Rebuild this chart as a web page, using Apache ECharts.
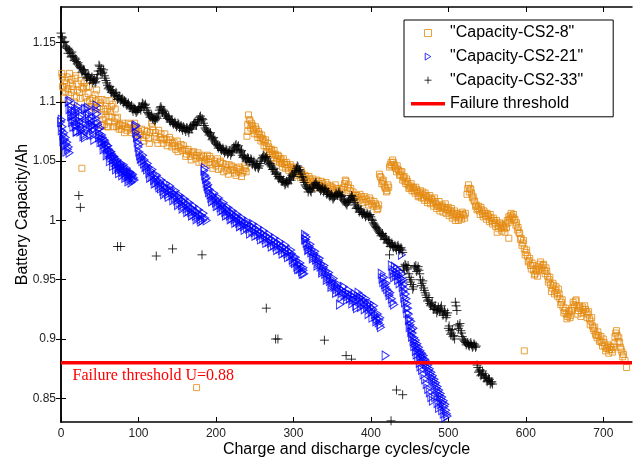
<!DOCTYPE html>
<html><head><meta charset="utf-8">
<script src="https://cdn.jsdelivr.net/npm/echarts@6/dist/echarts.min.js"></script>
<style>html,body{margin:0;padding:0;background:#fff}#c{width:636px;height:460px}</style>
</head><body><div id="c"></div>
<script>
const xTicks = [0, 100, 200, 300, 400, 500, 600, 700];
const yTicks = [0.85, 0.9, 0.95, 1, 1.05, 1.1, 1.15];
const xRange = [0, 737];
const yRange = [0.83, 1.18];
const threshold = 0.88;
const thresholdText = 'Failure threshold U=0.88';
const seriesNames = ['"Capacity-CS2-8"', '"Capacity-CS2-21"', '"Capacity-CS2-33"', 'Failure threshold'];

const cs2_8a = [
[1,1.124],[2,1.113],[3,1.112],[4,1.103],[5,1.118],[6,1.109],[8,1.121],[9,1.111],[10,1.106],[11,1.124],[12,1.116],[13,1.108],[15,1.113],[16,1.110],[17,1.100],[18,1.120],[19,1.122],[20,1.104],[22,1.115],[24,1.108],[26,1.118],[27,1.112],[29,1.111],[31,1.104],[33,1.113],[34,1.100],[35,1.107],[37,1.101],[39,1.096],[41,1.103],[43,1.095],[45,1.100],[46,1.110],[48,1.102],[50,1.096],[52,1.089],[53,1.102],[53,1.080],[55,1.094],[56,1.081],[57,1.087],[58,1.101],[59,1.079],[60,1.094],[61,1.079],[62,1.088],[63,1.101],[65,1.096],[66,1.087],[68,1.079],[70,1.094],[71,1.086],[72,1.079],[74,1.080],[76,1.081],[78,1.077],[80,1.082],[83,1.079],[85,1.076],[87,1.082],[89,1.078],[91,1.074],[93,1.077],[95,1.082],[96,1.073],[98,1.078],[100,1.075],[103,1.073],[106,1.070],[108,1.076],[110,1.072],[113,1.069],[115,1.074],[117,1.082],[119,1.076],[121,1.071],[123,1.068],[126,1.076],[128,1.070],[130,1.068],[132,1.065],[134,1.073],[136,1.068],[139,1.066],[141,1.068],[143,1.062],[146,1.066],[148,1.060],[150,1.067],[152,1.062],[155,1.064],[157,1.059],[160,1.060],[162,1.056],[165,1.058],[167,1.054],[169,1.057],[172,1.055],[174,1.052],[177,1.057],[179,1.053],[182,1.050],[184,1.054],[186,1.051],[189,1.055],[191,1.049],[193,1.052],[195,1.047],[198,1.050],[200,1.046],[202,1.052],[205,1.049],[207,1.044],[209,1.048],[212,1.045],[214,1.042],[217,1.047],[219,1.043],[222,1.045],[224,1.040],[227,1.044],[229,1.041],[232,1.043],[234,1.040],[237,1.046],[239,1.041],[240,1.071],[241,1.081],[242,1.089],[244,1.084],[245,1.078],[247,1.080],[249,1.077],[251,1.079],[253,1.073],[255,1.075],[257,1.070],[259,1.072],[261,1.068],[263,1.066],[265,1.062],[267,1.065],[269,1.060],[271,1.058],[273,1.056],[275,1.059],[277,1.055],[279,1.052],[281,1.054],[283,1.051],[285,1.048],[287,1.052],[289,1.047],[291,1.049],[293,1.045],[296,1.047],[298,1.043],[300,1.045],[302,1.041],[305,1.043],[307,1.039],[310,1.042],[312,1.037],[315,1.038],[317,1.034],[320,1.037],[322,1.033],[325,1.035],[327,1.031],[330,1.034],[333,1.031],[336,1.033],[339,1.029],[342,1.032],[345,1.027],[348,1.029],[351,1.026],[354,1.030],[357,1.025],[360,1.027],[363,1.024],[366,1.031],[368,1.033],[371,1.030],[374,1.027],[377,1.024],[380,1.021],[383,1.019],[386,1.022],[389,1.018],[392,1.020],[395,1.016],[398,1.019],[401,1.014],[404,1.016],[407,1.012],[409,1.010],[411,1.039],[413,1.036],[415,1.033],[417,1.030],[419,1.027],[421,1.025],[423,1.028],[424,1.045],[426,1.049],[428,1.051],[430,1.047],[432,1.044],[434,1.046],[436,1.042],[438,1.039],[440,1.041],[442,1.036],[444,1.033],[446,1.035],[448,1.030],[450,1.028],[452,1.031],[454,1.027],[456,1.025],[458,1.028],[460,1.024],[462,1.021],[464,1.025],[466,1.022],[468,1.019],[470,1.023],[472,1.020],[474,1.017],[476,1.021],[478,1.018],[480,1.015],[482,1.019],[484,1.014],[486,1.012],[488,1.016],[490,1.011],[492,1.013],[494,1.010],[496,1.014],[498,1.009],[500,1.011],[502,1.007],[504,1.010],[506,1.005],[508,1.008],[510,1.003],[512,1.006],[514,1.002],[516,1.005],[518,1.007],[520,1.004],[522,1.006],[524,1.022],[526,1.030],[528,1.027],[530,1.023],[532,1.020],[534,1.016],[536,1.013],[538,1.010],[540,1.008],[542,1.011],[544,1.006],[546,1.008],[548,1.004],[550,1.006],[552,1.003],[554,1.005],[556,1.000],[558,1.002],[560,0.998],[562,1.000],[563,0.990],[564,0.996],[566,0.998],[568,0.994],[570,0.996],[572,0.993],[574,0.997],[576,1.000],[578,0.985],[578,1.003],[580,1.004],[582,1.002],[584,1.005],[586,1.001],[588,0.998],[590,0.994],[592,0.989],[594,0.985],[596,0.981],[598,0.976],[600,0.973],[602,0.970],[604,0.966],[606,0.962],[608,0.964],[610,0.958],[612,0.955],[614,0.957],[616,0.961],[618,0.963],[620,0.960],[622,0.962],[624,0.958],[626,0.960],[628,0.953],[630,0.950],[632,0.946],[634,0.943],[636,0.945],[638,0.941],[640,0.939],[642,0.942],[644,0.934],[646,0.931],[648,0.927],[650,0.924],[652,0.921],[654,0.919],[656,0.923],[658,0.920],[660,0.926],[662,0.929],[664,0.932],[666,0.928],[668,0.924],[670,0.926],[672,0.922],[674,0.925],[676,0.928],[678,0.923],[680,0.921],[682,0.917],[684,0.915],[686,0.911],[688,0.907],[690,0.904],[692,0.901],[694,0.903],[696,0.899],[698,0.897],[700,0.900],[702,0.894],[704,0.892],[706,0.895],[708,0.891],[710,0.893],[712,0.889],[714,0.896],[716,0.905],[718,0.903],[720,0.901],[722,0.893],[724,0.889],[726,0.887],[728,0.882],[730,0.876],
[27,1.044],[175,0.859],[598,0.890]
];
const cs2_8b = [
[2,1.121],[7,1.115],[14,1.119],[21,1.110],[25,1.103],[30,1.116],[36,1.113],[40,1.098],[44,1.106],[47,1.094],[51,1.099],[54,1.085],[58,1.092],[62,1.083],[64,1.092],[67,1.098],[69,1.083],[73,1.087],[75,1.077],[79,1.080],[82,1.074],[86,1.078],[90,1.081],[94,1.076],[97,1.079],[101,1.072],[104,1.077],[107,1.067],[111,1.075],[114,1.065],[118,1.079],[122,1.074],[125,1.065],[129,1.073],[133,1.069],[137,1.063],[140,1.070],[144,1.065],[147,1.063],[151,1.058],[154,1.061],[158,1.063],[161,1.054],[164,1.060],[168,1.051],[171,1.058],[175,1.055],[178,1.049],[181,1.055],[185,1.048],[188,1.052],[192,1.054],[196,1.044],[199,1.048],[203,1.043],[206,1.050],[210,1.041],[213,1.047],[216,1.039],[220,1.046],[223,1.042],[226,1.038],[230,1.045],[233,1.037],[236,1.042],[238,1.044],
[241,1.075],[243,1.085],[246,1.082],[248,1.076],[250,1.073],[252,1.077],[254,1.070],[256,1.073],[258,1.067],[260,1.069],[262,1.063],[264,1.068],[266,1.058],[268,1.062],[270,1.056],[272,1.060],[274,1.053],[276,1.056],[278,1.050],[280,1.055],[282,1.049],[284,1.052],[286,1.045],[288,1.049],[290,1.044],[292,1.047],[294,1.042],[297,1.045],[299,1.040],[301,1.044],[304,1.038],[306,1.041],[309,1.036],[311,1.040],[314,1.035],[316,1.037],[319,1.031],[321,1.035],[324,1.030],[326,1.033],[329,1.028],[332,1.033],[335,1.029],[338,1.031],[341,1.026],[344,1.030],[347,1.024],[350,1.028],[353,1.023],[356,1.027],[359,1.022],[362,1.026],[365,1.028],[367,1.034],[370,1.028],[373,1.025],[376,1.022],[379,1.019],[382,1.021],[385,1.017],[388,1.020],[391,1.015],[394,1.018],[397,1.013],[400,1.017],[403,1.012],[406,1.014],[408,1.009],[410,1.013],
[412,1.037],[414,1.031],[416,1.034],[418,1.028],[420,1.024],[422,1.030],[425,1.047],[427,1.046],[429,1.049],[431,1.045],[433,1.041],[435,1.043],[437,1.038],[439,1.041],[441,1.034],[443,1.037],[445,1.031],[447,1.033],[449,1.027],[451,1.029],[453,1.025],[455,1.028],[457,1.023],[459,1.026],[461,1.020],[463,1.023],[465,1.019],[467,1.024],[469,1.017],[471,1.021],[473,1.015],[475,1.019],[477,1.014],[479,1.018],[481,1.012],[483,1.016],[485,1.010],[487,1.013],[489,1.008],[491,1.012],[493,1.007],[495,1.011],[497,1.006],[499,1.009],[501,1.004],[503,1.008],[505,1.002],[507,1.006],[509,1.000],[511,1.004],[513,1.000],[515,1.003],[517,1.001],[519,1.005],[521,1.002],
[525,1.027],[527,1.024],[529,1.026],[531,1.019],[533,1.017],[535,1.012],[537,1.009],[539,1.012],[541,1.005],[543,1.009],[545,1.003],[547,1.006],[549,1.001],[551,1.004],[553,0.999],[555,1.002],[557,0.997],[559,1.000],[561,0.995],[565,0.993],[567,0.997],[569,0.991],[571,0.995],[573,0.990],[575,0.994],[577,0.998],[579,1.001],[581,1.006],[583,1.003],[585,1.000],[587,0.996],[589,0.992],[591,0.990],[593,0.984],
[595,0.979],[597,0.983],[599,0.971],[601,0.975],[603,0.965],[605,0.968],[607,0.959],[609,0.962],[611,0.954],[613,0.959],[615,0.953],[617,0.959],[619,0.965],[621,0.958],[623,0.963],[625,0.955],[627,0.957],[629,0.948],[631,0.952],[633,0.940],[635,0.947],[637,0.938],[639,0.944],[641,0.936],[643,0.938],[645,0.929],[647,0.933],[649,0.922],[651,0.926],[653,0.917],[655,0.921],[657,0.918],[659,0.924],[661,0.931],[663,0.927],[665,0.933],[667,0.921],[669,0.928],[671,0.919],[673,0.927],[675,0.922],[677,0.925],[679,0.918],[681,0.923],[683,0.912],[685,0.918],[687,0.909],[689,0.910],[691,0.903],[693,0.906],[695,0.898],[697,0.902],[699,0.894],[701,0.897],[703,0.890],[705,0.893],[707,0.888],[709,0.894],[711,0.891],[713,0.893],[715,0.902],[717,0.907],[719,0.898],[721,0.897],[723,0.891],[725,0.885]
];

const cs2_21a = [
[0,1.083],[1,1.076],[2,1.079],[3,1.072],[4,1.074],[5,1.068],[6,1.070],[7,1.064],[8,1.066],[9,1.060],[10,1.062],[11,1.057],[12,1.101],[13,1.096],[14,1.092],[15,1.088],[16,1.085],[17,1.089],[18,1.083],[19,1.079],[20,1.081],[21,1.075],[22,1.096],[23,1.092],[24,1.087],[25,1.083],[26,1.079],[27,1.076],[28,1.082],[29,1.078],[30,1.073],[31,1.070],[33,1.094],[34,1.089],[35,1.095],[36,1.086],[37,1.082],[38,1.079],[39,1.084],[40,1.080],[41,1.076],[42,1.072],[44,1.078],[45,1.086],[46,1.097],[47,1.090],[48,1.081],[49,1.077],[50,1.073],[51,1.078],[52,1.069],[53,1.066],[54,1.070],[55,1.064],[56,1.068],[57,1.062],[58,1.065],[59,1.060],[60,1.063],[61,1.057],[62,1.060],[63,1.055],[64,1.058],[65,1.053],[66,1.056],[67,1.051],[68,1.054],[69,1.049],[70,1.052],[71,1.047],[72,1.050],[73,1.045],[74,1.048],[75,1.043],[76,1.046],[77,1.048],[78,1.043],[79,1.046],[80,1.041],[81,1.044],[82,1.040],[83,1.042],[84,1.038],[85,1.041],[86,1.037],[87,1.039],[88,1.035],[89,1.037],[90,1.040],[91,1.036],[92,1.038],[93,1.034],[94,1.036],
[96,1.079],[97,1.074],[98,1.070],[99,1.066],[100,1.062],[101,1.058],[102,1.055],[104,1.053],[105,1.050],[107,1.048],[108,1.051],[110,1.046],[111,1.043],[113,1.045],[114,1.040],[116,1.042],[117,1.037],[119,1.039],[120,1.034],[122,1.036],[123,1.032],[125,1.034],[126,1.030],[128,1.032],[129,1.027],[131,1.030],[132,1.025],[134,1.028],[135,1.024],[137,1.027],[138,1.022],[140,1.025],[141,1.029],[143,1.024],[144,1.021],[146,1.023],[147,1.019],[149,1.021],[150,1.017],[152,1.020],[153,1.015],[155,1.018],[156,1.013],[158,1.016],[159,1.012],[161,1.015],[162,1.010],[164,1.013],[165,1.008],[167,1.011],[168,1.007],[170,1.010],[171,1.005],[173,1.008],[174,1.004],[176,1.007],[177,1.003],[179,1.005],[180,1.001],[182,1.004],[183,1.000],
[185,1.042],[186,1.038],[187,1.035],[188,1.032],[189,1.029],[190,1.027],[191,1.024],[193,1.022],[194,1.019],[196,1.021],[197,1.017],[199,1.019],[200,1.015],[202,1.017],[203,1.013],[205,1.015],[206,1.011],[208,1.013],[209,1.009],[211,1.011],[212,1.007],[214,1.009],[215,1.005],[217,1.008],[218,1.004],[220,1.006],[221,1.002],[223,1.005],[224,1.001],[226,1.003],[227,0.999],[229,1.002],[230,0.998],[232,1.000],[233,0.996],[235,0.999],[236,0.995],[238,0.997],[240,0.994],[242,0.997],[243,0.993],[245,0.995],[247,0.991],[249,0.994],[250,0.990],[252,0.992],[254,0.988],[256,0.991],[257,0.987],[259,0.989],[261,0.985],[263,0.988],[264,0.984],[266,0.986],[268,0.982],[270,0.985],[271,0.981],[273,0.983],[275,0.979],[277,0.982],[278,0.978],[280,0.980],[282,0.976],[284,0.979],[285,0.975],[287,0.977],[289,0.973],[291,0.976],[292,0.972],[294,0.974],[296,0.970],[298,0.972],[299,0.967],[301,0.969],[302,0.964],[304,0.966],[305,0.961],[307,0.963],[308,0.959],[310,0.961],[311,0.957],[313,0.958],[314,0.955],
[315,0.988],[316,0.984],[317,0.981],[318,0.979],[320,0.976],[321,0.978],[323,0.973],[324,0.975],[326,0.970],[327,0.972],[329,0.967],[330,0.969],[332,0.964],[333,0.966],[335,0.961],[336,0.963],[338,0.958],[339,0.960],[341,0.955],[342,0.957],[344,0.952],[345,0.954],[347,0.949],[348,0.951],[350,0.946],[351,0.948],[353,0.944],[354,0.946],[356,0.942],[357,0.944],[359,0.940],[360,0.929],[361,0.942],[363,0.939],[364,0.941],[366,0.937],[368,0.939],[370,0.936],[371,0.938],[373,0.934],[375,0.937],[377,0.933],[378,0.935],[380,0.932],[382,0.926],[383,0.936],[385,0.933],[386,0.935],[388,0.931],[390,0.933],[391,0.929],[393,0.931],[395,0.927],[396,0.929],[398,0.925],[400,0.927],[401,0.923],[403,0.925],[405,0.921],[406,0.919],[408,0.917],[410,0.914],[411,0.916],[412,0.912],
[414,0.955],[415,0.951],[416,0.948],[417,0.952],[418,0.946],[419,0.944],[420,0.947],[421,0.942],[423,0.940],[424,0.937],[425,0.939],[427,0.934],[428,0.931],[430,0.929],[419,0.886],
[427,0.962],[429,0.958],[431,0.961],[433,0.956],[434,0.959],[436,0.954],[438,0.957],[439,0.951],[440,0.971],[441,0.955],[442,0.950],[443,0.946],[444,0.942],[445,0.938],[446,0.934],[447,0.930],[448,0.926],[449,0.921],[450,0.917],[451,0.912],[452,0.915],[453,0.908],[454,0.905],[455,0.909],[456,0.901],[457,0.897],[458,0.899],[459,0.894],[460,0.896],[461,0.891],[462,0.893],[463,0.888],[464,0.890],[465,0.886],[466,0.888],[467,0.884],[468,0.886],[469,0.881],[470,0.883],[471,0.879],[472,0.881],[473,0.876],[474,0.878],[475,0.873],[476,0.875],[477,0.870],[478,0.872],[479,0.867],[480,0.869],[481,0.864],[482,0.866],[483,0.861],[484,0.863],[485,0.858],[486,0.860],[487,0.855],[488,0.857],[489,0.852],[490,0.854],[491,0.849],[492,0.851],[493,0.846],[494,0.848],[495,0.843],[496,0.845],[497,0.840],[498,0.837],[499,0.835]
];
const cs2_21b = [
[1,1.085],[3,1.067],[5,1.063],[7,1.058],[10,1.100],[11,1.094],[13,1.088],[14,1.083],[16,1.079],[18,1.092],[20,1.075],[21,1.094],[23,1.084],[25,1.075],[27,1.088],[29,1.071],[31,1.094],[32,1.082],[34,1.076],[36,1.090],[38,1.072],[40,1.087],[42,1.080],[43,1.068],[45,1.093],[47,1.083],[49,1.070],[51,1.066],[53,1.072],[55,1.060],[57,1.067],[59,1.055],[61,1.063],[63,1.050],[65,1.058],[67,1.046],[69,1.054],[71,1.043],[73,1.051],[75,1.040],[77,1.044],[79,1.038],[81,1.047],[83,1.036],[85,1.044],[87,1.033],[89,1.041],[91,1.032],[93,1.039],[95,1.034],
[97,1.080],[99,1.071],[101,1.064],[103,1.052],[106,1.055],[109,1.045],[112,1.048],[115,1.036],[118,1.043],[121,1.031],[124,1.038],[127,1.028],[130,1.034],[133,1.022],[136,1.031],[139,1.020],[142,1.026],[145,1.017],[148,1.025],[151,1.013],[154,1.021],[157,1.010],[160,1.018],[163,1.007],[166,1.015],[169,1.004],[172,1.012],[175,1.001],[178,1.009],[181,0.999],[184,1.006],[186,1.002],[188,1.000],
[186,1.044],[188,1.036],[190,1.030],[192,1.026],[195,1.016],[198,1.023],[201,1.012],[204,1.019],[207,1.008],[210,1.015],[213,1.004],[216,1.011],[219,1.001],[222,1.008],[225,0.998],[228,1.005],[231,0.995],[234,1.002],[237,0.992],[241,0.999],[244,0.989],[248,0.997],[251,0.987],[255,0.994],[258,0.984],[262,0.991],[265,0.981],[269,0.988],[272,0.978],[276,0.985],[279,0.975],[283,0.982],[286,0.972],[290,0.979],[293,0.969],[297,0.975],[300,0.965],[303,0.969],[306,0.959],[309,0.964],[312,0.955],[313,0.960],
[315,0.984],[317,0.986],[319,0.975],[322,0.980],[325,0.968],[328,0.974],[331,0.962],[334,0.968],[337,0.956],[340,0.962],[343,0.950],[346,0.956],[349,0.944],[352,0.951],[355,0.939],[358,0.946],[362,0.935],[365,0.944],[369,0.933],[372,0.941],[376,0.930],[379,0.938],[381,0.928],[384,0.939],[387,0.927],[389,0.936],[392,0.925],[394,0.934],[397,0.921],[399,0.930],[402,0.918],[404,0.928],[407,0.915],[409,0.921],[413,0.910],[412,0.918],
[428,0.955],[430,0.952],[432,0.954],[435,0.950],[437,0.947],[440,0.949],[441,0.944],[442,0.940],[443,0.935],[444,0.931],[446,0.926],[447,0.922],[449,0.916],[450,0.910],[452,0.906],[453,0.902],[455,0.898],[456,0.894],[458,0.890],[459,0.887],[461,0.884],[463,0.880],[464,0.877],[466,0.874],[468,0.870],[470,0.866],[472,0.862],[474,0.858],[476,0.855],[478,0.851],[480,0.848],[483,0.851],[486,0.846],[488,0.842],[490,0.845],[492,0.840],[494,0.837],[496,0.834]
];

const cs2_33a = [
[0,1.158],[2,1.154],[4,1.150],[6,1.147],[8,1.145],[10,1.144],[12,1.141],[14,1.142],[16,1.138],[18,1.137],[20,1.134],[22,1.133],[24,1.130],[26,1.128],[28,1.126],[30,1.127],[32,1.123],[34,1.121],[36,1.122],[38,1.119],[40,1.121],[42,1.118],[44,1.116],[46,1.120],[48,1.126],[50,1.130],[52,1.128],[54,1.125],[56,1.122],[58,1.118],[60,1.114],[62,1.112],[64,1.110],[66,1.109],[68,1.107],[70,1.106],[72,1.105],[74,1.103],[76,1.104],[78,1.102],[80,1.100],[82,1.101],[84,1.099],[86,1.098],[88,1.097],[90,1.096],[92,1.094],[94,1.095],[96,1.093],[98,1.092],[100,1.094],[102,1.095],[104,1.096],[106,1.098],[108,1.097],[110,1.095],[112,1.091],[114,1.089],[116,1.088],[118,1.086],[120,1.087],[122,1.085],[124,1.086],[126,1.090],[128,1.095],[130,1.094],[132,1.093],[134,1.090],[136,1.088],[138,1.087],[140,1.085],[142,1.084],[144,1.083],[146,1.082],[148,1.081],[150,1.080],[152,1.081],[154,1.079],[156,1.078],[158,1.079],[160,1.077],[162,1.078],[164,1.076],[166,1.077],[168,1.078],[170,1.080],[172,1.082],[174,1.081],[176,1.083],[178,1.085],[180,1.088],[182,1.086],[184,1.082],[186,1.078],[188,1.076],[190,1.074],[192,1.073],[194,1.071],[196,1.069],[198,1.067],[200,1.065],[202,1.063],[204,1.062],[206,1.061],[208,1.060],[210,1.059],[212,1.058],[214,1.059],[216,1.057],[218,1.058],[220,1.057],[222,1.059],[224,1.061],[226,1.064],[228,1.062],[230,1.060],[232,1.058],[234,1.055],[236,1.054],[238,1.052],[240,1.051],[242,1.052],[244,1.050],[246,1.051],[248,1.049],[250,1.046],[252,1.047],[254,1.045],[256,1.046],[258,1.050],[260,1.053],[262,1.054],[264,1.053],[266,1.052],[268,1.049],[270,1.048],[272,1.045],[274,1.043],[276,1.041],[278,1.039],[280,1.037],[282,1.036],[284,1.035],[286,1.033],[288,1.032],[290,1.031],[292,1.032],[294,1.034],[296,1.036],[298,1.038],[300,1.037],[302,1.041],[304,1.044],[306,1.045],[308,1.043],[310,1.039],[312,1.036],[314,1.032],[316,1.029],[318,1.027],[320,1.026],[322,1.025],[324,1.027],[326,1.029],[328,1.031],[330,1.030],[332,1.028],[334,1.027],[336,1.026],[338,1.027],[340,1.026],[342,1.025],[344,1.023],[346,1.022],[348,1.021],[350,1.020],[352,1.019],[354,1.021],[356,1.022],[358,1.023],[360,1.022],[362,1.020],[364,1.018],[366,1.016],[368,1.014],[370,1.015],[372,1.017],[374,1.019],[376,1.020],[378,1.018],[380,1.013],[382,1.011],[384,1.010],[386,1.008],[388,1.007],[390,1.006],[392,1.005],[394,1.004],[396,1.005],[398,1.004],[400,1.003],[402,1.000],[404,0.997],[406,0.995],[408,0.993],[410,0.991],[412,0.989],[414,0.988],[416,0.987],[418,0.985],[420,0.984],[422,0.982],[424,0.981],[426,0.980],[428,0.979],[430,0.978],[432,0.977],[434,0.978],[436,0.977],[438,0.976],[440,0.975],[442,0.961],[444,0.963],[446,0.960],[448,0.962],[450,0.952],[451,0.948],[453,0.946],[455,0.944],[456,0.961],[458,0.962],[460,0.959],[462,0.958],[464,0.950],[466,0.947],[468,0.943],[470,0.939],[472,0.935],[474,0.933],[476,0.930],[478,0.929],[480,0.927],[482,0.926],[484,0.925],[486,0.924],[488,0.925],[490,0.926],[492,0.923],[494,0.921],[496,0.922],[498,0.920],[500,0.909],[502,0.907],[504,0.905],[506,0.902],[508,0.900],[509,0.931],[511,0.924],[512,0.912],[514,0.911],[516,0.907],[518,0.902],[520,0.899],[522,0.897],[524,0.896],[526,0.895],[528,0.896],[530,0.895],[532,0.894],[534,0.895],[536,0.894],[538,0.876],[539,0.872],[541,0.874],[543,0.870],[545,0.871],[547,0.868],[549,0.867],[551,0.865],[553,0.866],[555,0.863],[557,0.862],
[23,1.021],[25,1.011],[73,0.978],[77,0.978],[123,0.970],[144,0.976],[182,0.971],[265,0.926],[277,0.900],[280,0.900],[340,0.899],[368,0.886],[375,0.883],[424,0.971],[433,0.857],[441,0.853],[426,0.831]
];
const cs2_33b = [
[1,1.155],[3,1.150],[5,1.151],[7,1.146],[9,1.141],[11,1.143],[13,1.138],[15,1.139],[17,1.135],[19,1.136],[21,1.132],[23,1.131],[25,1.129],[27,1.125],[29,1.127],[31,1.124],[33,1.120],[35,1.123],[37,1.118],[39,1.120],[41,1.116],[43,1.119],[45,1.117],[47,1.123],[49,1.131],[51,1.126],[53,1.124],[55,1.127],[57,1.120],[59,1.116],[61,1.111],[63,1.113],[65,1.108],[67,1.110],[69,1.105],[71,1.108],[73,1.102],[75,1.105],[77,1.101],[79,1.103],[81,1.099],[83,1.100],[85,1.097],[87,1.099],[89,1.095],[91,1.097],[93,1.092],[95,1.094],[97,1.091],[99,1.093],[101,1.096],[103,1.093],[105,1.099],[107,1.095],[109,1.098],[111,1.093],[113,1.090],[115,1.087],[117,1.089],[119,1.085],[121,1.084],[123,1.087],[125,1.088],[127,1.093],[129,1.096],[131,1.091],[133,1.092],[135,1.089],[137,1.086],[139,1.088],[141,1.083],[143,1.085],[145,1.081],[147,1.083],[149,1.079],[151,1.082],[153,1.078],[155,1.080],[157,1.076],[159,1.078],[161,1.075],[163,1.078],[165,1.074],[167,1.079],[169,1.077],[171,1.081],[173,1.083],[175,1.080],[177,1.085],[179,1.087],[181,1.084],[183,1.085],[185,1.080],[187,1.077],[189,1.075],[191,1.072],[193,1.074],[195,1.068],[197,1.070],[199,1.066],[201,1.064],[203,1.061],[205,1.063],[207,1.059],[209,1.061],[211,1.057],[213,1.060],[215,1.056],[217,1.059],[219,1.055],[221,1.058],[223,1.062],[225,1.063],[227,1.060],[229,1.063],[231,1.057],[233,1.059],[235,1.053],[237,1.055],[239,1.050],[241,1.053],[243,1.049],[245,1.052],[247,1.047],[249,1.050],[251,1.045],[253,1.048],[255,1.044],[257,1.048],[259,1.052],[261,1.055],[263,1.051],[265,1.054],[267,1.050],[269,1.047],[271,1.046],[273,1.043],[275,1.044],[277,1.039],[279,1.040],[281,1.035],[283,1.037],[285,1.033],[287,1.034],[289,1.030],[291,1.033],[293,1.031],[295,1.035],[297,1.034],[299,1.039],[301,1.040],[303,1.042],[305,1.046],[307,1.042],[309,1.041],[311,1.037],[313,1.034],[315,1.030],[317,1.028],[319,1.024],[321,1.027],[323,1.024],[325,1.028],[327,1.030],[329,1.032],[331,1.029],[333,1.029],[335,1.025],[337,1.028],[339,1.024],[341,1.027],[343,1.022],[345,1.024],[347,1.020],[349,1.022],[351,1.018],[353,1.020],[355,1.023],[357,1.021],[359,1.024],[361,1.020],[363,1.021],[365,1.017],[367,1.015],[369,1.013],[371,1.016],[373,1.018],[375,1.021],[377,1.017],[379,1.015],[381,1.010],[383,1.012],[385,1.007],[387,1.009],[389,1.005],[391,1.007],[393,1.003],[395,1.006],[397,1.003],[399,1.005],[401,1.001],[403,0.998],[405,0.996],[407,0.994],[409,0.992],[411,0.990],[413,0.987],[415,0.989],[417,0.984],[419,0.986],[421,0.981],[423,0.983],[425,0.978],[427,0.981],[429,0.977],[431,0.979],[433,0.975],[435,0.979],[437,0.975],[439,0.977],[441,0.973],
[443,0.958],[445,0.962],[447,0.959],[449,0.955],[452,0.950],[454,0.942],[457,0.960],[459,0.957],[461,0.961],[463,0.955],[465,0.945],[467,0.949],[469,0.941],[471,0.937],[473,0.932],[475,0.935],[477,0.928],[479,0.931],[481,0.925],[483,0.928],[485,0.922],[487,0.927],[489,0.923],[491,0.928],[493,0.920],[495,0.924],[497,0.918],[499,0.922],[501,0.911],[503,0.904],[505,0.908],[507,0.903],[510,0.928],[513,0.909],[515,0.913],[517,0.905],[519,0.900],[521,0.898],[523,0.895],[525,0.897],[527,0.894],[529,0.897],[531,0.893],[533,0.896],[535,0.893],[537,0.878],[540,0.873],[542,0.869],[544,0.873],[546,0.867],[548,0.869],[550,0.864],[552,0.867],[554,0.862],[556,0.864]
];

const cs2_8 = cs2_8a.concat(cs2_8b);
const cs2_21 = cs2_21a.concat(cs2_21b);
const cs2_33 = cs2_33a.concat(cs2_33b);
const thresholdLine = [[xRange[0], threshold], [xRange[1], threshold]];

const FONT = '"Liberation Sans", Arial, sans-serif';
const SQUARE = 'path://M0,0L10,0L10,10L0,10Z';
const TRIANGLE = 'path://M0,0L8,5L0,10Z';
const PLUS = 'path://M5,0L5,10M0,5L10,5';
const BAR = 'path://M0,0L100,0L100,10L0,10Z';
const chart = echarts.init(document.getElementById('c'), null, {renderer: 'canvas'});
const axisLineStyle = {color: '#000', width: 1.5};
const hollow = c => ({color: 'rgba(0,0,0,0)', borderColor: c, borderWidth: 1});

const option = {
  animation: false,
  backgroundColor: '#fff',
  grid: {left: 61, right: 4, top: 7, bottom: 38, containLabel: false, outerBoundsMode: 'none'},
  legend: {
    orient: 'vertical', left: 404, top: 20,
    padding: [5, 30, 5, 7], itemGap: 7.6,
    itemWidth: 34, itemHeight: 7, symbolKeepAspect: true,
    borderColor: '#000', borderWidth: 1, backgroundColor: '#fff',
    textStyle: {fontFamily: FONT, fontSize: 16, color: '#000', lineHeight: 16},
    itemStyle: {borderWidth: 1},
    data: [
      {name: seriesNames[0], icon: SQUARE},
      {name: seriesNames[1], icon: TRIANGLE},
      {name: seriesNames[2], icon: PLUS},
      {name: seriesNames[3], icon: BAR, itemStyle: {color: '#FF0000', borderWidth: 0}}
    ]
  },
  xAxis: [
    {type: 'value', min: xRange[0], max: xRange[1], position: 'bottom',
     name: 'Charge and discharge cycles/cycle', nameLocation: 'middle', nameGap: 20, nameMoveOverlap: false,
     nameTextStyle: {fontFamily: FONT, fontSize: 16, color: '#000'},
     axisLine: {show: true, lineStyle: axisLineStyle},
     axisTick: {show: true, inside: true, length: 5, customValues: xTicks, lineStyle: {color: '#000'}},
     axisLabel: {customValues: xTicks, fontFamily: FONT, fontSize: 12, color: '#222', margin: 6},
     splitLine: {show: false}},
    {type: 'value', min: xRange[0], max: xRange[1], position: 'top',
     axisLine: {show: true, lineStyle: axisLineStyle},
     axisTick: {show: true, inside: true, length: 5, customValues: xTicks, lineStyle: {color: '#000'}},
     axisLabel: {show: false}, splitLine: {show: false}}
  ],
  yAxis: [
    {type: 'value', min: yRange[0], max: yRange[1], position: 'left',
     name: 'Battery Capacity/Ah', nameLocation: 'middle', nameGap: 30, nameRotate: 90, nameMoveOverlap: false,
     nameTextStyle: {fontFamily: FONT, fontSize: 16, color: '#000'},
     axisLine: {show: true, lineStyle: axisLineStyle},
     axisTick: {show: true, inside: true, length: 5, customValues: yTicks, lineStyle: {color: '#000'}},
     axisLabel: {customValues: yTicks, fontFamily: FONT, fontSize: 12, color: '#222', margin: 5},
     splitLine: {show: false}},
    {type: 'value', min: yRange[0], max: yRange[1], position: 'right',
     axisLine: {show: true, lineStyle: axisLineStyle},
     axisTick: {show: true, inside: true, length: 5, customValues: yTicks, lineStyle: {color: '#000'}},
     axisLabel: {show: false}, splitLine: {show: false}}
  ],
  series: [
    {name: seriesNames[0], type: 'scatter', data: cs2_8, symbol: SQUARE, symbolSize: 6,
     itemStyle: hollow('#E3890F'), z: 2},
    {name: seriesNames[1], type: 'scatter', data: cs2_21, symbol: TRIANGLE, symbolSize: [7, 9],
     itemStyle: hollow('#0000FF'), z: 3},
    {name: seriesNames[2], type: 'scatter', data: cs2_33, symbol: PLUS, symbolSize: 9,
     itemStyle: hollow('#000000'), z: 4},
    {name: seriesNames[3], type: 'line', data: thresholdLine, symbol: 'none', showSymbol: false,
     lineStyle: {color: '#FF0000', width: 3.5}, itemStyle: {color: '#FF0000'}, z: 5, silent: true}
  ]
};
chart.setOption(option);
const p = chart.convertToPixel({xAxisIndex: 0, yAxisIndex: 0}, [15, threshold]);
chart.setOption({graphic: [{type: 'text', x: p[0], y: p[1] + 5, z: 10,
  style: {text: thresholdText, fill: '#FF0000', font: '16px "Liberation Serif", "Times New Roman", serif', verticalAlign: 'top'}}]});
</script>
</body></html>
